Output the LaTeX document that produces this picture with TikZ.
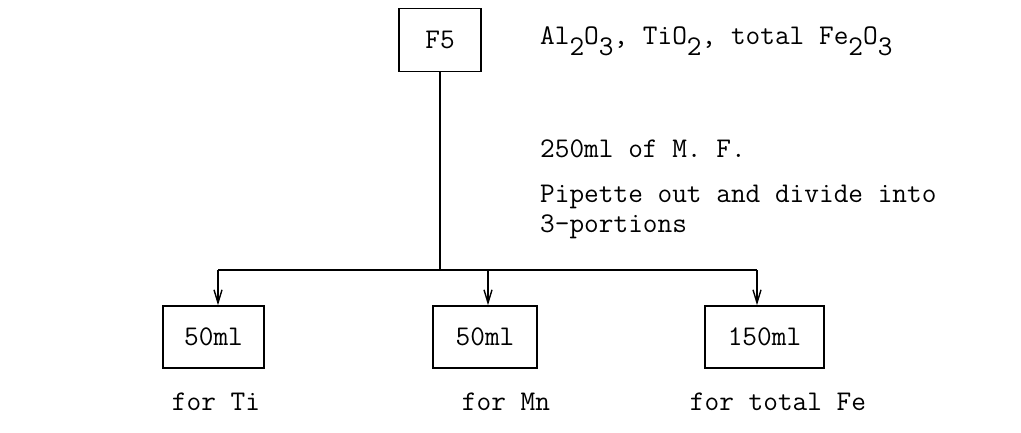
\documentclass[tikz,border=0pt]{standalone}
\usepackage{fontspec}
\usetikzlibrary{arrows.meta}
\newcommand{\sub}[1]{\raisebox{-11pt}{#1}}
\begin{document}
\begin{tikzpicture}[x=1pt,y=-1pt,
  every node/.style={font=\ttfamily\fontsize{28.5pt}{34pt}\selectfont, inner sep=0pt},
  boxnode/.style={draw, line width=1.6pt, minimum height=62pt},
  conn/.style={line width=1.6pt},
  arr/.style={conn, -{Straight Barb[length=13pt,width=8pt,line width=1.4pt]}},
  txt/.style={anchor=base west}]
\useasboundingbox (0,0) rectangle (1021,433);
\node[boxnode, minimum width=82pt, minimum height=63pt] (f5) at (440,40) {F5};
\node[boxnode, minimum width=101pt] (b1) at (213.5,337) {50ml};
\node[boxnode, minimum width=104pt] (b2) at (485,337) {50ml};
\node[boxnode, minimum width=119pt] (b3) at (764.5,337) {150ml};
\coordinate (j) at (440,270);
\coordinate (l) at (218,270);
\coordinate (m) at (488,270);
\coordinate (r) at (757,270);
\draw[conn] (f5.south) -- (j);
\draw[conn] (l) -- (r);
\draw[arr] (l) -- (l |- b1.north);
\draw[arr] (m) -- (m |- b2.north);
\draw[arr] (r) -- (r |- b3.north);
\node[txt] (t1) at (540,45) {Al\sub{2}O\sub{3}, TiO\sub{2}, total Fe\sub{2}O\sub{3}};
\node[txt] (t2) at (540,158) {250ml of M. F.};
\node[txt] (t3) at (540,203) {Pipette out and divide into};
\node[txt] (t4) at (540,233) {3-portions};
\node (c1) at (216,402) {for Ti};
\node (c2) at (506,402) {for Mn};
\node (c3) at (778,402) {for total Fe};
\end{tikzpicture}
\end{document}
